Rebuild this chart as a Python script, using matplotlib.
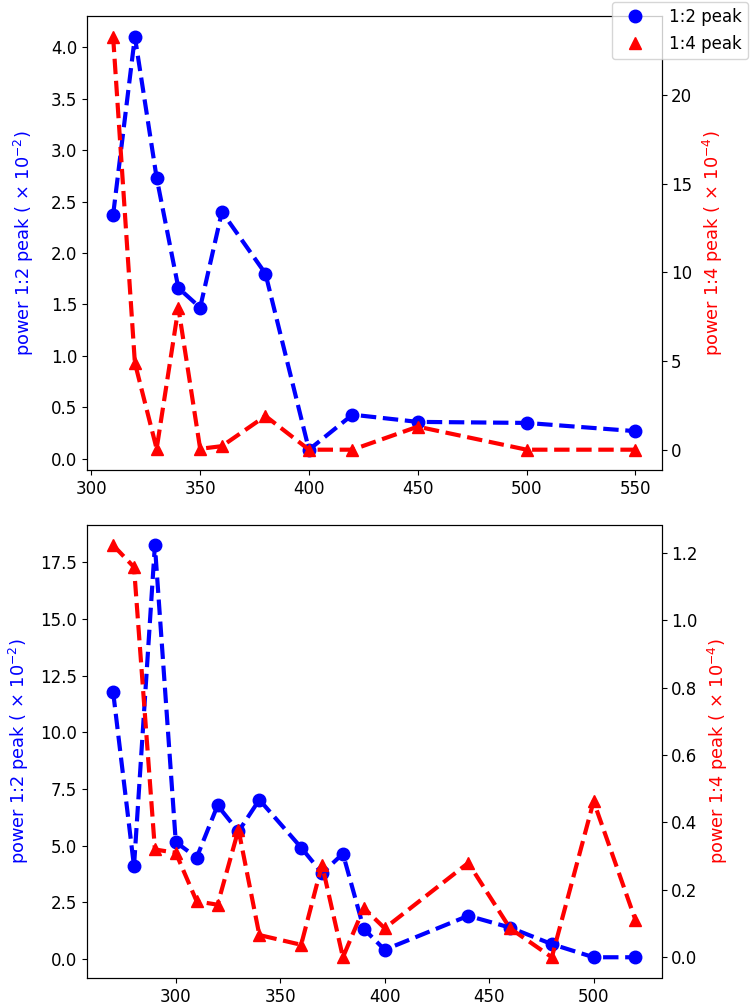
import matplotlib
matplotlib.use("Agg")
import matplotlib.pyplot as plt

plt.rcParams['font.size'] = 12

# top panel
x_top = [310, 320, 330, 340, 350, 360, 380, 400, 420, 450, 500, 550]
p12_top = [2.37, 4.10, 2.73, 1.66, 1.47, 2.40, 1.80, 0.09, 0.43, 0.36, 0.35, 0.27]
p14_top = [23.3, 4.9, 0.05, 8.0, 0.05, 0.2, 1.9, 0.0, 0.0, 1.3, 0.0, 0.0]

# bottom panel
x_bot = [270, 280, 290, 300, 310, 320, 330, 340, 360, 370, 380, 390, 400,
         440, 460, 480, 500, 520]
p12_bot = [11.78, 4.08, 18.25, 5.15, 4.47, 6.77, 5.62, 7.02, 4.91, 3.78, 4.64,
           1.32, 0.40, 1.90, 1.38, 0.65, 0.07, 0.07]
p14_bot = [1.223, 1.158, 0.32, 0.31, 0.166, 0.156, 0.379, 0.066, 0.037, 0.275,
           0.0, 0.146, 0.086, 0.28, 0.086, 0.0, 0.463, 0.111]

fig = plt.figure(figsize=(7.5, 10.05), dpi=100)
ax1 = fig.add_axes([0.116, 0.532, 0.766, 0.452])
ax2 = fig.add_axes([0.116, 0.027, 0.766, 0.451])

panels = [(ax1, x_top, p12_top, p14_top, 11), (ax2, x_bot, p12_bot, p14_bot, 7)]
for ax, x, a, b, pad in panels:
    axr = ax.twinx()
    ax.plot(x, a, 'b--', lw=3)
    ax.plot(x, a, 'bo', ms=9, label='1:2 peak')
    axr.plot(x, b, 'r--', lw=3)
    axr.plot(x, b, 'r^', ms=9, label='1:4 peak')
    ax.set_ylabel(r'power 1:2 peak ( $\times$ 10$^{-2}$)', color='b',
                  fontsize=12.8, labelpad=pad)
    axr.set_ylabel(r'power 1:4 peak ( $\times$ 10$^{-4}$)', color='r',
                   fontsize=12.8, labelpad=6)

h1, l1 = ax1.get_legend_handles_labels()
h2, l2 = fig.axes[2].get_legend_handles_labels()
fig.legend(h1 + h2, l1 + l2, loc='upper right', borderaxespad=0.1,
           handletextpad=1.0)

fig.savefig('out.png')
